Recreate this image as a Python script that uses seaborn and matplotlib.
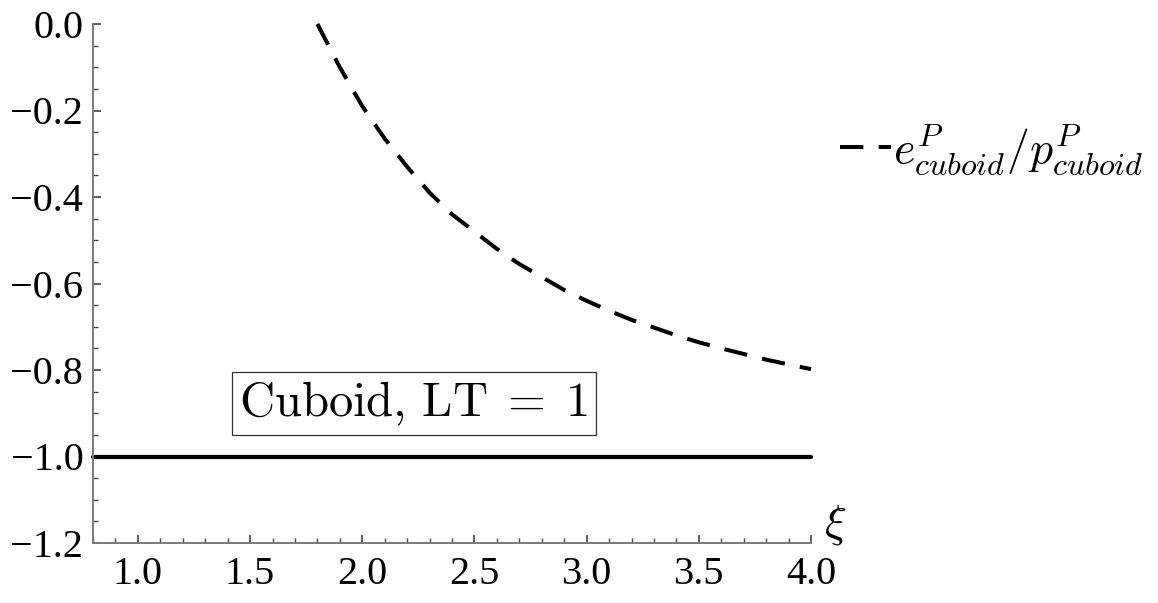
import numpy as np
import pandas as pd
import matplotlib
matplotlib.use("Agg")
import matplotlib.pyplot as plt
from matplotlib.ticker import MultipleLocator, FixedLocator, FuncFormatter
import seaborn as sns

# Energy-to-pressure ratio of the cuboid as a function of xi
xi_curve = [1.8, 1.9, 2.0, 2.1, 2.2, 2.3, 2.4, 2.5, 2.6, 2.7, 2.8, 2.9,
            3.0, 3.1, 3.2, 3.3, 3.4, 3.5, 3.6, 3.7, 3.8, 3.9, 4.0]
ratio_curve = [0.0, -0.10, -0.19, -0.265, -0.33, -0.39, -0.44, -0.48, -0.52,
               -0.555, -0.585, -0.615, -0.64, -0.663, -0.684, -0.702, -0.72,
               -0.736, -0.75, -0.763, -0.776, -0.787, -0.798]

# Reference level
xi_ref = [0.8, 4.0]
ratio_ref = [-1.0, -1.0]

x_ticks = [1.0, 1.5, 2.0, 2.5, 3.0, 3.5, 4.0]
y_ticks = [0.0, -0.2, -0.4, -0.6, -0.8, -1.0, -1.2]

legend_label = r"$e^{P}_{cuboid}/p^{P}_{cuboid}$"
box_label = r"$\mathrm{Cuboid,\,LT}\;=\;1$"

sns.set_style("ticks")
plt.rcParams["mathtext.fontset"] = "cm"
plt.rcParams["font.family"] = ["Liberation Serif", "DejaVu Serif"]
plt.rcParams["text.color"] = "black"
plt.rcParams["xtick.labelcolor"] = "black"
plt.rcParams["ytick.labelcolor"] = "black"

fig = plt.figure(figsize=(11.58, 6.03), dpi=100)
ax = fig.add_axes([93 / 1158, 1 - 543 / 603, (811 - 93) / 1158, (543 - 24) / 603])

curve_df = pd.DataFrame({"xi": xi_curve, "ratio": ratio_curve})
ref_df = pd.DataFrame({"xi": xi_ref, "ratio": ratio_ref})

sns.lineplot(data=ref_df, x="xi", y="ratio", ax=ax, color="black",
             linewidth=3.0, legend=False, clip_on=False)
sns.lineplot(data=curve_df, x="xi", y="ratio", ax=ax, color="black",
             linewidth=2.9, legend=False, clip_on=False)
dashed = ax.lines[-1]
dashed.set_dashes((5.8, 3.8))
dashed.set_dash_capstyle("butt")

ax.set_xlim(0.8, 4.0)
ax.set_ylim(-1.2, 0.0)
ax.set_xlabel("")
ax.set_ylabel("")

ax.xaxis.set_major_locator(FixedLocator(x_ticks))
ax.yaxis.set_major_locator(FixedLocator(y_ticks))
ax.xaxis.set_minor_locator(MultipleLocator(0.1))
ax.yaxis.set_minor_locator(MultipleLocator(0.05))
fmt = FuncFormatter(lambda v, p: f"{v:.1f}".replace("-", "\u2212"))
ax.xaxis.set_major_formatter(fmt)
ax.yaxis.set_major_formatter(fmt)

for side in ("top", "right"):
    ax.spines[side].set_visible(False)
for side in ("left", "bottom"):
    ax.spines[side].set_color("#7a7a7a")
    ax.spines[side].set_linewidth(1.4)

ax.tick_params(axis="both", which="major", direction="in", length=6,
               width=1.2, color="#444444", labelsize=29, pad=7)
ax.tick_params(axis="both", which="minor", direction="in", length=3.5,
               width=1.0, color="#444444")
ax.tick_params(axis="x", which="major", pad=9)

ax.text(2.23, -0.877, box_label, fontsize=35, ha="center", va="center",
        bbox=dict(boxstyle="square,pad=0.15", facecolor="white",
                  edgecolor="#333333", linewidth=0.9))

ax.text(1.018, 0.035, r"$\xi$", transform=ax.transAxes, fontsize=33,
        ha="left", va="center")

fig.legend([dashed], [legend_label], loc="center left",
           bbox_to_anchor=(799 / 1158, 1 - 150 / 603), frameon=False,
           fontsize=33, handlelength=1.1, handletextpad=0.05)

fig.savefig("out.png", dpi=100)
